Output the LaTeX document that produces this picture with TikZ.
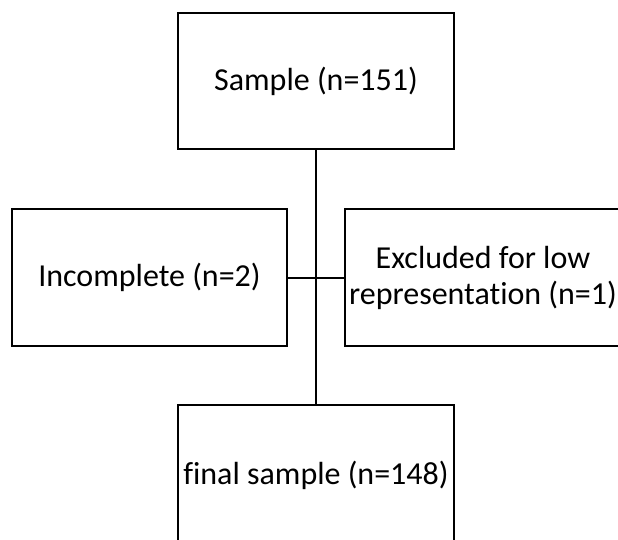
\documentclass[tikz,border=0pt]{standalone}
\usepackage{fontspec}
\setmainfont{Carlito}[Ligatures=NoCommon]
\begin{document}
\begin{tikzpicture}[x=1pt,y=-1pt,
  box/.style={draw=black, line width=2pt, rectangle, inner sep=0pt, align=center,
    font=\fontsize{32}{36}\selectfont, fill=white},
  link/.style={draw=black, line width=2pt}]
\useasboundingbox (0,0) rectangle (618,540);
\clip (0,0) rectangle (618,540);
\node[box, minimum width=276pt, minimum height=136pt] (sample) at (316,81) {Sample (n=151)};
\node[box, minimum width=275pt, minimum height=137pt] (incomplete) at (149.5,277.5) {Incomplete (n=2)};
\node[box, minimum width=276pt, minimum height=137pt] (excluded) at (483,277.5) {\raisebox{-3pt}{\parbox{270pt}{\centering Excluded for low\\representation (n=1)}}};
\node[box, minimum width=276pt, minimum height=140pt] (final) at (316,475) {final sample (n=148)};
\draw[link] (sample.south) -- (final.north);
\draw[link] (incomplete.east) -- (excluded.west);
\end{tikzpicture}
\end{document}
